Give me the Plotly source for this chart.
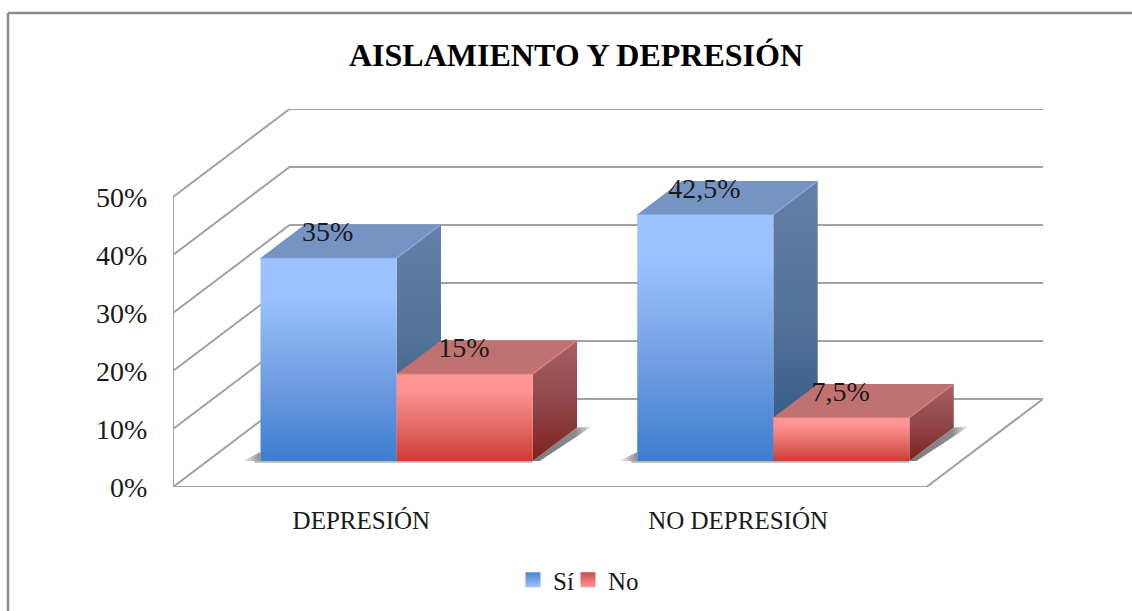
import plotly.graph_objects as go

# ---- data ----
TITLE = "AISLAMIENTO Y DEPRESIÓN"
categories = ["DEPRESIÓN", "NO DEPRESIÓN"]
series_names = ["Sí", "No"]
si_values = [35, 42.5]
no_values = [15, 7.5]
si_labels = ["35%", "42,5%"]
no_labels = ["15%", "7,5%"]
y_ticks = [0, 10, 20, 30, 40, 50]
y_tick_labels = ["0%", "10%", "20%", "30%", "40%", "50%"]

# ---- oblique projection, in axis units ----
W, H = 1132, 611
PX_X = 376.5          # px per category
PX_Y = 5.8            # px per percent
DX = 116.5 / PX_X     # full depth of the floor, x
DY = 88 / PX_Y        # full depth of the floor, y
BAR_W = 136 / PX_X
BAR_SHIFT = 0.8 / PX_X
D_FRONT = 26 / 88
D_BACK = 59.5 / 88
LABEL_LIFT = 24 / PX_Y
SERIF = "Liberation Serif"
GRID = "#a2a2a2"


def pr(u, v, d=0.0):
    return u + d * DX, v + d * DY


def xy(points):
    xs = [p[0] for p in points]
    ys = [p[1] for p in points]
    return xs, ys


fig = go.Figure()


def line(points, color=GRID, width=2):
    xs, ys = xy(points)
    fig.add_trace(go.Scatter(x=xs, y=ys, mode="lines", line=dict(color=color, width=width),
                             showlegend=False, hoverinfo="skip", cliponaxis=False))


def poly(points, scale):
    xs, ys = xy(points + points[:1])
    fig.add_trace(go.Scatter(x=xs, y=ys, mode="lines", fill="toself", line=dict(width=0),
                             fillgradient=dict(type="vertical", colorscale=scale),
                             showlegend=False, hoverinfo="skip", cliponaxis=False))


def shade(points, scale):
    xs, ys = xy(points + points[:1])
    fig.add_trace(go.Scatter(x=xs, y=ys, mode="lines", fill="toself", line=dict(width=0),
                             fillgradient=dict(type="horizontal", colorscale=scale),
                             showlegend=False, hoverinfo="skip", cliponaxis=False))


# walls and floor
for t in y_ticks[1:]:
    line([pr(0, t), pr(0, t, 1), pr(2, t, 1)])
line([pr(0, 0), pr(0, 0, 1), pr(2, 0, 1), pr(2, 0), pr(0, 0)])
line([pr(0, 0), pr(0, y_ticks[-1])])

BLUE_FRONT = [[0, "#3d7dd0"], [0.35, "#6b9ae0"], [0.8, "#9ac0fd"], [1, "#9cc2ff"]]
BLUE_SIDE = [[0, "#2c5284"], [0.5, "#537299"], [1, "#657fa6"]]
BLUE_TOP = [[0, "#7594c4"], [1, "#7594c4"]]
RED_FRONT = [[0, "#cf3a35"], [0.35, "#e06560"], [0.8, "#ff9292"], [1, "#ff9696"]]
RED_SIDE = [[0, "#7e211e"], [0.5, "#91484a"], [1, "#a66262"]]
RED_TOP = [[0, "#c07270"], [1, "#c07270"]]
SHADOW_RIGHT = [[0, "#7c7c7c"], [0.72, "#8a8a8a"], [1, "#f2f2f2"]]
SHADOW_LEFT = [[0, "#f4f4f4"], [1, "#8c8c8c"]]


def bar(u0, value, front, side, top, edge):
    u1 = u0 + BAR_W
    # side, top, front
    poly([pr(u1, 0, D_FRONT), pr(u1, 0, D_BACK), pr(u1, value, D_BACK), pr(u1, value, D_FRONT)], side)
    poly([pr(u0, value, D_FRONT), pr(u0, value, D_BACK), pr(u1, value, D_BACK), pr(u1, value, D_FRONT)], top)
    poly([pr(u0, 0, D_FRONT), pr(u1, 0, D_FRONT), pr(u1, value, D_FRONT), pr(u0, value, D_FRONT)], front)
    line([pr(u1, value, D_FRONT), pr(u1, value, D_BACK)], color=edge, width=1.5)
    line([pr(u0, value, D_FRONT), pr(u1, value, D_FRONT)], color=edge, width=1.2)


for i in range(len(categories)):
    u_si = i + 0.5 - BAR_W + BAR_SHIFT
    u_no = i + 0.5 + BAR_SHIFT
    # contact shadows on the floor
    shade([pr(u_si - 18 / PX_X, 0, D_FRONT), pr(u_si, 0, D_FRONT), pr(u_si, 9 / PX_Y, D_FRONT)], SHADOW_LEFT)
    end = u_no + BAR_W
    shade([pr(end, 0, D_FRONT), pr(end, 0, D_BACK), pr(end + 15 / PX_X, 1 / PX_Y, D_BACK), pr(end + 7 / PX_X, 0, D_FRONT)],
          SHADOW_RIGHT)
    line([pr(u_si - 6 / PX_X, -0.15, D_FRONT), pr(end, -0.15, D_FRONT)], color="#b4b4b4", width=2)
    bar(u_si, si_values[i], BLUE_FRONT, BLUE_SIDE, BLUE_TOP, "#82a8e0")
    bar(u_no, no_values[i], RED_FRONT, RED_SIDE, RED_TOP, "#d98080")

# value labels
for values, labels, off in ((si_values, si_labels, -BAR_W / 2), (no_values, no_labels, BAR_W / 2)):
    pts = [pr(i + 0.5 + off, v, D_FRONT) for i, v in enumerate(values)]
    fig.add_trace(go.Scatter(x=[p[0] for p in pts], y=[p[1] + LABEL_LIFT for p in pts],
                             mode="text", text=labels, textposition="middle center",
                             textfont=dict(family=SERIF, size=28, color="#1a1a1a"),
                             showlegend=False, hoverinfo="skip", cliponaxis=False))

# legend entries
fig.add_trace(go.Scatter(x=[None], y=[None], mode="markers", name=series_names[0], legend="legend",
                         marker=dict(symbol="square", size=15, color="#4a84cf",
                                     gradient=dict(type="vertical", color="#9cc2ff"))))
fig.add_trace(go.Scatter(x=[None], y=[None], mode="markers", name=series_names[1], legend="legend2",
                         marker=dict(symbol="square", size=15, color="#cc4b48",
                                     gradient=dict(type="vertical", color="#ff9696"))))
LEGEND_FONT = dict(family=SERIF, size=25, color="#1a1a1a")

fig.update_layout(
    width=W, height=H, autosize=False,
    margin=dict(l=173, r=89, t=109, b=124, pad=0),
    paper_bgcolor="white", plot_bgcolor="rgba(0,0,0,0)",
    title=dict(text=f"<b>{TITLE}</b>", font=dict(family=SERIF, size=32, color="#000000"),
               x=576 / W, xref="container", xanchor="center",
               y=1 - 55 / H, yref="container", yanchor="middle"),
    xaxis=dict(range=[0, 2 + DX], tickmode="array", tickvals=[0.5, 1.5], ticktext=categories,
               showgrid=False, zeroline=False, showline=False, ticks="outside", ticklen=11,
               tickcolor="rgba(0,0,0,0)", tickfont=dict(family=SERIF, size=25, color="#1a1a1a")),
    yaxis=dict(range=[0, 50 + DY], tickmode="array", tickvals=y_ticks, ticktext=y_tick_labels,
               showgrid=False, zeroline=False, showline=False, ticks="outside", ticklen=19,
               tickcolor="rgba(0,0,0,0)", tickfont=dict(family=SERIF, size=28, color="#1a1a1a")),
    legend=dict(orientation="h", xref="container", yref="container",
                x=513 / W, xanchor="left", y=1 - 580 / H, yanchor="middle",
                font=LEGEND_FONT, itemwidth=30, bgcolor="rgba(0,0,0,0)"),
    legend2=dict(orientation="h", xref="container", yref="container",
                 x=568 / W, xanchor="left", y=1 - 580 / H, yanchor="middle",
                 font=LEGEND_FONT, itemwidth=30, bgcolor="rgba(0,0,0,0)"),
    shapes=[
        dict(type="line", xref="paper", yref="paper",
             x0=(8 - 173) / 870, x1=(W - 173) / 870, y0=(487 - 13) / 378, y1=(487 - 13) / 378,
             line=dict(color="#8c8c8c", width=2.5)),
        dict(type="line", xref="paper", yref="paper",
             x0=(8 - 173) / 870, x1=(8 - 173) / 870, y0=(487 - 13) / 378, y1=(487 - H) / 378,
             line=dict(color="#8c8c8c", width=2.5)),
    ],
)

fig.write_html("out.html", config={"displayModeBar": False},
               post_script="document.body.style.margin='0';document.body.style.overflow='hidden';")
